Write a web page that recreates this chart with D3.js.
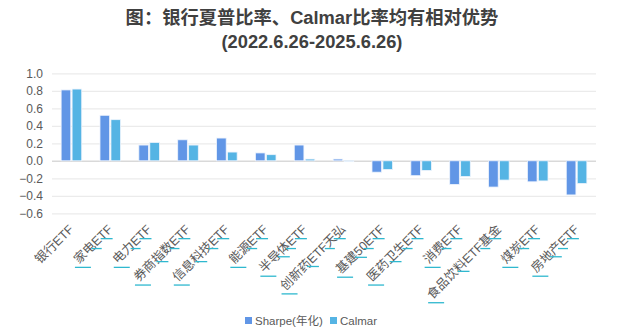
<!DOCTYPE html>
<html>
<head>
<meta charset="utf-8">
<script src="https://cdn.jsdelivr.net/npm/d3@7/dist/d3.min.js"></script>
<style>
  html, body { margin: 0; padding: 0; background: #ffffff; }
  svg { display: block; font-family: "Liberation Sans", Arial, "Noto Sans CJK SC", sans-serif; }
</style>
</head>
<body>
<svg id="chart" width="627" height="333"></svg>
<script>
// ETF names along the x axis
const categories = [
  "银行ETF", "家电ETF", "电力ETF", "券商指数ETF", "信息科技ETF", "能源ETF", "半导体ETF",
  "创新药ETF天弘", "基建50ETF", "医药卫生ETF", "消费ETF", "食品饮料ETF基金", "煤炭ETF", "房地产ETF"
];
// Annualised Sharpe ratio per ETF
const sharpeValues = [0.81, 0.52, 0.18, 0.24, 0.26, 0.09, 0.18, 0.02, -0.13, -0.17, -0.27, -0.30, -0.24, -0.39];
// Calmar ratio per ETF
const calmarValues = [0.82, 0.47, 0.21, 0.18, 0.10, 0.07, 0.02, -0.01, -0.10, -0.11, -0.18, -0.22, -0.23, -0.26];
// Series names and y-axis ticks
const seriesNames = ["Sharpe(年化)", "Calmar"];
const yTicks = [1.0, 0.8, 0.6, 0.4, 0.2, 0.0, -0.2, -0.4, -0.6];
const titleLines = ["图：银行夏普比率、Calmar比率均有相对优势", "(2022.6.26-2025.6.26)"];

const colors = ["#6196E6", "#55B4E4"];
const textColor = "#595959";

const svg = d3.select("#chart");
const margin = { left: 52, right: 31, top: 73, bottom: 120 };
const W = 627, H = 333;

const x = d3.scaleBand()
  .domain(categories)
  .range([margin.left, W - margin.right])
  .paddingInner(0.47)
  .paddingOuter(0.235);

const xs = d3.scaleBand()
  .domain(seriesNames)
  .range([0, x.bandwidth()])
  .paddingInner(0.12);

const y = d3.scaleLinear()
  .domain([-0.6, 1.0])
  .range([213.3, 73.3]);

// Title
svg.append("g")
  .selectAll("text")
  .data(titleLines)
  .join("text")
  .attr("x", 312)
  .attr("y", (d, i) => 24 + i * 24)
  .attr("text-anchor", "middle")
  .attr("font-size", 18.3)
  .attr("font-weight", "bold")
  .attr("fill", "#404040")
  .text(d => d);

// Gridlines
const yAxis = d3.axisLeft(y)
  .tickValues(yTicks)
  .tickSize(-(W - margin.right - margin.left))
  .tickFormat(d3.format(".1f"))
  .tickPadding(9);

const gy = svg.append("g")
  .attr("transform", `translate(${margin.left},0)`)
  .call(yAxis);
gy.select(".domain").remove();
gy.selectAll(".tick line")
  .attr("stroke", d => d === 0 ? "#d9d9d9" : "#ebebeb")
  .attr("stroke-width", d => d === 0 ? 1.5 : 1.2);
gy.selectAll(".tick text")
  .attr("fill", textColor)
  .attr("font-size", 12)
  .attr("font-family", "'Liberation Sans', Arial, sans-serif");

// Bars
const rows = categories.map((c, i) => ({ cat: c, vals: [sharpeValues[i], calmarValues[i]] }));
const groups = svg.append("g")
  .selectAll("g")
  .data(rows)
  .join("g")
  .attr("transform", d => `translate(${x(d.cat)},0)`);

groups.selectAll("rect")
  .data(d => d.vals.map((v, k) => ({ v, k })))
  .join("rect")
  .attr("x", d => xs(seriesNames[d.k]))
  .attr("width", xs.bandwidth())
  .attr("y", d => y(Math.max(0, d.v)))
  .attr("height", d => Math.abs(y(d.v) - y(0)))
  .attr("fill", d => colors[d.k])
  .attr("stroke", "#eef4fd")
  .attr("stroke-width", 0.8);

// Category labels, rotated
const labelY = 230;
const labels = svg.append("g")
  .selectAll("g")
  .data(categories)
  .join("g")
  .attr("transform", d => `translate(${x(d) + x.bandwidth() / 2 + 3},${labelY}) rotate(-45)`);

labels.append("text")
  .attr("text-anchor", "end")
  .attr("font-size", 12.5)
  .attr("fill", textColor)
  .text(d => d);

// Short cyan underline strokes beneath the labels
const ul = svg.append("g").attr("stroke", "#2fb8cf").attr("stroke-width", 1.3);
labels.each(function (d, i) {
  if (i === 0) return;
  const L = this.querySelector("text").getComputedTextLength();
  const cx = x(d) + x.bandwidth() / 2 + 3;
  const c = Math.SQRT1_2;
  const marks = [[L, 16, -4], [22, 10, -6], [8, 12, -7]];
  if (L > 60) marks.push([L * 0.55, 12, -6]);
  marks.forEach(([s, len, dx]) => {
    const px = cx - s * c + dx;
    const py = labelY + s * c + 3;
    ul.append("line")
      .attr("x1", px).attr("x2", px + len)
      .attr("y1", py).attr("y2", py);
  });
});

// Legend
const legend = svg.append("g").attr("transform", "translate(245,321)");
const legendOffsets = [0, 85];
seriesNames.forEach((name, k) => {
  const g = legend.append("g").attr("transform", `translate(${legendOffsets[k]},0)`);
  g.append("rect").attr("x", 0).attr("y", -4).attr("width", 7).attr("height", 7).attr("fill", colors[k]);
  g.append("text").attr("x", 10).attr("y", 4).attr("font-size", 11.5).attr("fill", textColor).text(name);
});
</script>
</body>
</html>
